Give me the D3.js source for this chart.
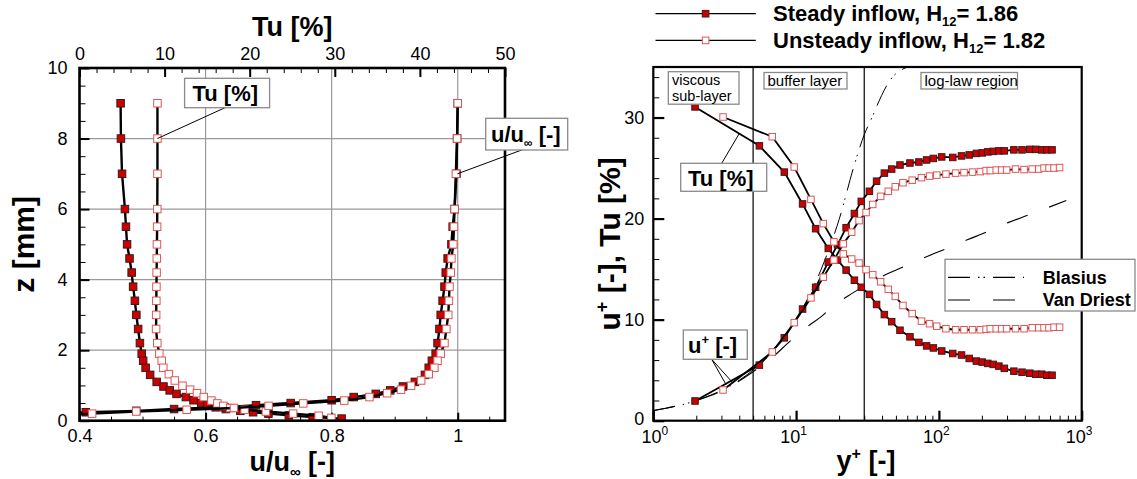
<!DOCTYPE html>
<html><head><meta charset="utf-8">
<script src="https://cdn.jsdelivr.net/npm/d3@7"></script>
<style>
body{margin:0;background:#fff;}
svg{display:block;font-family:"Liberation Sans",Arial,Helvetica,sans-serif;}
</style></head><body>
<svg id="c" width="1137" height="479"></svg>
<script>
// ================= LEFT PANEL DATA (z in mm) =================
const steadyZ  = [9, 8, 7, 6, 5.5, 5.0, 4.6, 4.2, 3.8, 3.4, 3.0, 2.6, 2.2, 1.9, 1.7, 1.5, 1.3, 1.1, 0.97, 0.86, 0.76, 0.67, 0.58, 0.5, 0.44, 0.38, 0.33, 0.28, 0.24, 0.2, 0.15, 0.1, 0.06];
const steadyTu = [4.83, 4.87, 5.0, 5.34, 5.46, 5.59, 5.88, 6.13, 6.3, 6.51, 6.68, 6.89, 7.1, 7.31, 7.48, 7.77, 8.3, 9.07, 9.87, 10.6, 11.4, 12.5, 13.4, 14.3, 15.0, 16.0, 17.2, 18.9, 20.4, 22.2, 24.6, 27.4, 30.8];
const steadyU  = [1.0, 0.999, 0.998, 0.995, 0.992, 0.990, 0.984, 0.981, 0.979, 0.976, 0.973, 0.971, 0.968, 0.965, 0.959, 0.954, 0.948, 0.932, 0.913, 0.893, 0.87, 0.835, 0.80, 0.735, 0.68, 0.63, 0.55, 0.49, 0.41, 0.35, 0.3, 0.24, 0.18];
const unsteadyZ  = [9, 8, 7, 6, 5.5, 5.0, 4.6, 4.2, 3.8, 3.4, 3.0, 2.6, 2.2, 1.9, 1.7, 1.5, 1.32, 1.14, 0.99, 0.88, 0.78, 0.67, 0.57, 0.49, 0.42, 0.36, 0.31, 0.26, 0.2, 0.14, 0.08];
const unsteadyTu = [9.16, 9.16, 9.16, 9.14, 9.12, 9.1, 9.08, 9.06, 9.04, 9.03, 9.01, 9.0, 9.14, 9.38, 9.66, 9.85, 10.5, 11.2, 12.1, 13.0, 13.8, 14.6, 15.5, 16.2, 16.9, 17.7, 19.4, 21.9, 25.1, 28.1, 29.6];
const unsteadyU  = [1.0, 0.999, 0.997, 0.995, 0.994, 0.993, 0.99, 0.989, 0.987, 0.986, 0.985, 0.982, 0.979, 0.973, 0.968, 0.963, 0.954, 0.942, 0.926, 0.91, 0.888, 0.86, 0.82, 0.755, 0.70, 0.645, 0.57, 0.49, 0.42, 0.34, 0.25];

// ================= RIGHT PANEL DATA (wall units) =================
const steadyYp  = [1.96, 5.53, 8.27, 11.1, 13.7, 16.8, 19.5, 22.4, 25.6, 28.6, 32.6, 36.6, 41.5, 46.7, 53.4, 62.7, 72.4, 82, 91.5, 104.6, 125, 144, 163, 183, 201, 220, 240, 263, 287, 335, 382, 433, 477, 525, 570, 620];
const steadyUp  = [1.95, 5.5, 8.2, 11.05, 13.2, 15.7, 17.4, 19.1, 20.5, 21.7, 22.7, 23.7, 24.5, 24.9, 25.3, 25.5, 25.6, 25.8, 25.95, 26.1, 26.05, 26.2, 26.3, 26.45, 26.5, 26.6, 26.65, 26.7, 26.7, 26.8, 26.8, 26.85, 26.85, 26.8, 26.8, 26.8];
const steadyTuR = [31.05, 27.2, 24.6, 21.45, 19.0, 17.05, 15.9, 14.9, 13.9, 13.2, 12.5, 11.5, 10.5, 9.8, 8.95, 8.3, 7.75, 7.4, 7.2, 6.9, 6.65, 6.5, 6.16, 5.9, 5.8, 5.67, 5.57, 5.4, 5.18, 4.9, 4.8, 4.7, 4.6, 4.6, 4.5, 4.5];
const unsteadyYp  = [3.08, 6.81, 9.7, 12.7, 15.5, 18.4, 21.4, 24.5, 27.6, 30.9, 34.4, 39.1, 44.2, 49.5, 56, 65, 75.5, 86, 96.6, 112, 131, 150, 172, 195, 214, 229, 252, 275, 298, 344, 395, 450, 500, 545, 590, 640, 700];
const unsteadyUp  = [3.04, 6.8, 9.7, 12.15, 14.2, 15.9, 17.5, 18.65, 19.8, 20.6, 21.4, 22.2, 22.7, 23.15, 23.55, 23.8, 24.05, 24.2, 24.3, 24.4, 24.5, 24.55, 24.6, 24.65, 24.75, 24.75, 24.8, 24.8, 24.8, 24.9, 24.85, 24.9, 24.9, 25.0, 25.0, 25.0, 25.05];
const unsteadyTuR = [30.05, 28.1, 25.1, 21.9, 19.5, 17.7, 16.5, 16.0, 15.6, 14.95, 14.45, 13.75, 13.0, 12.3, 11.4, 10.6, 9.85, 9.6, 9.35, 9.1, 9.0, 9.0, 9.0, 9.0, 9.05, 9.1, 9.1, 9.1, 9.1, 9.1, 9.1, 9.2, 9.2, 9.2, 9.2, 9.25, 9.25];
const blasiusYp = [1, 2, 4, 7, 10, 15, 20, 25.8, 30, 34, 38, 41.4, 45, 48.8, 56, 63, 80];
const blasiusUp = [1, 2, 4, 7, 10, 15, 19.9, 25.5, 28.3, 30.0, 31.6, 32.7, 33.6, 34.2, 34.8, 35.1, 35.5];
const vanDriestYp = [1, 2, 3, 5, 7, 8.8, 12.5, 15, 18, 25, 37.6, 52, 75, 107, 158, 219, 305, 413, 571, 780];
const vanDriestUp = [1.0, 2.0, 2.95, 4.85, 6.4, 7.7, 9.5, 10.3, 11.3, 12.65, 14.1, 15.0, 16.0, 16.9, 17.9, 18.7, 19.6, 20.3, 21.05, 21.8];
const regionBounds = [5, 30];
const regionLabels = ["viscous|sub-layer", "buffer layer", "log-law region"];

// ================= TICKS =================
const zTicks = [0, 2, 4, 6, 8, 10];
const zMinor = d3.range(0, 10.01, 0.5);
const uTicks = [0.4, 0.6, 0.8, 1];
const uMinor = d3.range(0.4, 1.076, 0.05);
const tuTicks = [0, 10, 20, 30, 40, 50];
const tuMinor = d3.range(0, 50.01, 2);
const rYTicks = [0, 10, 20, 30];
const rYMinor = d3.range(0, 35.01, 2);
const rXTicks = [1, 10, 100, 1000];
const rXMinor = [2,3,4,5,6,7,8,9,20,30,40,50,60,70,80,90,200,300,400,500,600,700,800,900];

const RED = "#cc0000", REDL = "#e05555";
const svg = d3.select("#c");
const defs = svg.append("defs");

// ================= LEFT PANEL =================
const L = {x0: 79.5, x1: 505, y0: 68, y1: 420.7};
const xU = d3.scaleLinear([0.4, 1.075], [L.x0, L.x1]);
const xTu = d3.scaleLinear([0, 50], [L.x0, L.x1]);
const yZ = d3.scaleLinear([0, 10], [L.y1, L.y0]);

defs.append("clipPath").attr("id", "clipL").append("rect")
  .attr("x", L.x0).attr("y", L.y0).attr("width", L.x1 - L.x0).attr("height", L.y1 - L.y0);

const gL = svg.append("g");
// grid
gL.append("g").selectAll("line").data([0.6, 0.8, 1]).join("line")
  .attr("x1", d => xU(d)).attr("x2", d => xU(d)).attr("y1", L.y0).attr("y2", L.y1)
  .attr("stroke", "#9a9a9a").attr("stroke-width", 1.2);
gL.append("g").selectAll("line").data([2, 4, 6, 8]).join("line")
  .attr("y1", d => yZ(d)).attr("y2", d => yZ(d)).attr("x1", L.x0).attr("x2", L.x1)
  .attr("stroke", "#9a9a9a").attr("stroke-width", 1.2);

function styleAxis(g, w) {
  g.select(".domain").remove();
  g.selectAll(".tick line").attr("stroke", "#000").attr("stroke-width", w);
  g.selectAll(".tick text").attr("fill", "#000").attr("font-size", 18).attr("font-family", null);
}
// left z axis
gL.append("g").attr("transform", `translate(${L.x0},0)`)
  .call(d3.axisRight(yZ).tickValues(zMinor).tickSize(6).tickFormat("")).call(styleAxis, 1);
gL.append("g").attr("transform", `translate(${L.x0},0)`)
  .call(d3.axisLeft(yZ).tickValues(zTicks).tickSizeInner(-10).tickSizeOuter(0).tickPadding(12).tickFormat(d3.format("d"))).call(styleAxis, 2);
// bottom u axis
gL.append("g").attr("transform", `translate(0,${L.y1})`)
  .call(d3.axisTop(xU).tickValues(uMinor).tickSize(4).tickFormat("")).call(styleAxis, 1);
gL.append("g").attr("transform", `translate(0,${L.y1})`)
  .call(d3.axisBottom(xU).tickValues(uTicks).tickSizeInner(-8).tickSizeOuter(0).tickPadding(9)
    .tickFormat(d => d === 1 ? "1" : d3.format(".1f")(d))).call(styleAxis, 2);
// top Tu axis
gL.append("g").attr("transform", `translate(0,${L.y0})`)
  .call(d3.axisBottom(xTu).tickValues(tuMinor).tickSize(5).tickFormat("")).call(styleAxis, 1);
gL.append("g").attr("transform", `translate(0,${L.y0})`)
  .call(d3.axisTop(xTu).tickValues(tuTicks).tickSizeInner(-9).tickSizeOuter(0).tickPadding(8).tickFormat(d3.format("d"))).call(styleAxis, 2);

// data
const dL = gL.append("g").attr("clip-path", "url(#clipL)");
function seriesL(zs, vals, xs, filled) {
  const pts = zs.map((z, i) => [xs(vals[i]), yZ(z)]);
  dL.append("path").attr("d", d3.line()(pts)).attr("fill", "none").attr("stroke", "#000").attr("stroke-width", 2.4);
  const s = 7.5;
  dL.append("g").selectAll("rect").data(pts).join("rect")
    .attr("x", d => d[0] - s / 2).attr("y", d => d[1] - s / 2).attr("width", s).attr("height", s)
    .attr("fill", filled ? RED : "#fff").attr("stroke", filled ? "#3a1a1a" : REDL).attr("stroke-width", 1);
}
seriesL(steadyZ, steadyTu, xTu, true);
seriesL(steadyZ, steadyU, xU, true);
seriesL(unsteadyZ, unsteadyTu, xTu, false);
seriesL(unsteadyZ, unsteadyU, xU, false);

// frame
gL.append("rect").attr("x", L.x0).attr("y", L.y0).attr("width", L.x1 - L.x0).attr("height", L.y1 - L.y0)
  .attr("fill", "none").attr("stroke", "#000").attr("stroke-width", 2.6);

// titles
gL.append("text").attr("x", (L.x0 + L.x1) / 2).attr("y", 36).attr("text-anchor", "middle")
  .attr("font-size", 27).attr("font-weight", "bold").text("Tu [%]");
const tb = gL.append("text").attr("x", (L.x0 + L.x1) / 2).attr("y", 471).attr("text-anchor", "middle")
  .attr("font-size", 27).attr("font-weight", "bold");
tb.append("tspan").text("u/u");
tb.append("tspan").attr("font-size", 15).attr("dy", 6).text("∞");
tb.append("tspan").attr("dy", -6).text(" [-]");
gL.append("text").attr("transform", `translate(34,${(L.y0 + L.y1) / 2}) rotate(-90)`).attr("text-anchor", "middle")
  .attr("font-size", 30).attr("font-weight", "bold").text("z [mm]");

// annotations
function annBox(g, x, y, w, h) {
  g.append("rect").attr("x", x).attr("y", y).attr("width", w).attr("height", h)
    .attr("fill", "#fff").attr("stroke", "#8a8a8a").attr("stroke-width", 1.3);
}
function leader(g, x1, y1, x2, y2) {
  g.append("line").attr("x1", x1).attr("y1", y1).attr("x2", x2).attr("y2", y2).attr("stroke", "#000").attr("stroke-width", 1);
}
const iTu8 = unsteadyZ.indexOf(8);
leader(gL, 225, 107.7, xTu(unsteadyTu[iTu8]), yZ(8));
annBox(gL, 184.6, 78.3, 85, 29.4);
gL.append("text").attr("x", 192.5).attr("y", 100.5).attr("font-size", 22).attr("font-weight", "bold").text("Tu [%]");
const iU7 = steadyZ.indexOf(7);
leader(gL, 523, 149.5, xU(steadyU[iU7]) + 1, yZ(7));
annBox(gL, 485.7, 118.3, 82, 31.7);
const ta = gL.append("text").attr("x", 491).attr("y", 141.5).attr("font-size", 22).attr("font-weight", "bold");
ta.append("tspan").text("u/u");
ta.append("tspan").attr("font-size", 12).attr("dy", 5).text("∞");
ta.append("tspan").attr("dy", -5).text(" [-]");

// ================= RIGHT PANEL =================
const R = {x0: 653.3, x1: 1081.7, y0: 67, y1: 420.7};
const xY = d3.scaleLog([1, 1000], [R.x0, R.x1]);
const yR = d3.scaleLinear([0, 35], [R.y1, R.y0]);
defs.append("clipPath").attr("id", "clipR").append("rect")
  .attr("x", R.x0).attr("y", R.y0).attr("width", R.x1 - R.x0).attr("height", R.y1 - R.y0);
const gR = svg.append("g");

// axes
gR.append("g").attr("transform", `translate(${R.x0},0)`)
  .call(d3.axisRight(yR).tickValues(rYMinor).tickSize(6).tickFormat("")).call(styleAxis, 1);
const yAxR = gR.append("g").attr("transform", `translate(${R.x0},0)`)
  .call(d3.axisLeft(yR).tickValues(rYTicks).tickSizeInner(-11).tickSizeOuter(0).tickPadding(9).tickFormat(d3.format("d"))).call(styleAxis, 2.2);
yAxR.selectAll(".tick text").attr("dy", d => d === 0 ? "0.2em" : "0.32em");
gR.append("g").attr("transform", `translate(0,${R.y1})`)
  .call(d3.axisTop(xY).tickValues(rXMinor).tickSize(5).tickFormat("")).call(styleAxis, 1);
const xAx = gR.append("g").attr("transform", `translate(0,${R.y1})`)
  .call(d3.axisTop(xY).tickValues(rXTicks).tickSize(10).tickFormat("")).call(styleAxis, 2.2);
xAx.selectAll(".tick").each(function(d) {
  const t = d3.select(this).append("text").attr("x", d === 1 ? 1 : -3).attr("y", 22.5).attr("text-anchor", "middle")
    .attr("font-size", 18).attr("fill", "#000");
  t.append("tspan").text("10");
  t.append("tspan").attr("font-size", 12).attr("dy", -8).text(Math.round(Math.log10(d)));
});

// region separators
gR.append("g").selectAll("line").data(regionBounds).join("line")
  .attr("x1", d => xY(d)).attr("x2", d => xY(d)).attr("y1", R.y0).attr("y2", R.y1)
  .attr("stroke", "#000").attr("stroke-width", 1.2);

const dR = gR.append("g").attr("clip-path", "url(#clipR)");
const lineR = d3.line().curve(d3.curveMonotoneX);
dR.append("path").attr("d", lineR(blasiusYp.map((v, i) => [xY(v), yR(blasiusUp[i])])))
  .attr("fill", "none").attr("stroke", "#000").attr("stroke-width", 1).attr("stroke-dasharray", "22,8,1.5,4,1.5,8");
dR.append("path").attr("d", lineR(vanDriestYp.map((v, i) => [xY(v), yR(vanDriestUp[i])])))
  .attr("fill", "none").attr("stroke", "#000").attr("stroke-width", 1.1).attr("stroke-dasharray", "22,23");

function seriesR(xs, ys, filled) {
  const pts = xs.map((v, i) => [xY(v), yR(ys[i])]);
  dR.append("path").attr("d", d3.line()(pts)).attr("fill", "none").attr("stroke", "#000").attr("stroke-width", 1.8);
  const s = 6.5;
  dR.append("g").selectAll("rect").data(pts).join("rect")
    .attr("x", d => d[0] - s / 2).attr("y", d => d[1] - s / 2).attr("width", s).attr("height", s)
    .attr("fill", filled ? RED : "#fff").attr("stroke", filled ? "#3a1a1a" : REDL).attr("stroke-width", 1);
}
seriesR(steadyYp, steadyUp, true);
seriesR(steadyYp, steadyTuR, true);
seriesR(unsteadyYp, unsteadyUp, false);
seriesR(unsteadyYp, unsteadyTuR, false);

// frame
gR.append("rect").attr("x", R.x0).attr("y", R.y0).attr("width", R.x1 - R.x0).attr("height", R.y1 - R.y0)
  .attr("fill", "none").attr("stroke", "#000").attr("stroke-width", 2.2);

// region labels
annBox(gR, 668.3, 71.7, 70.7, 32.5);
gR.append("text").attr("x", 672).attr("y", 85).attr("font-size", 14.5).text(regionLabels[0].split("|")[0]);
gR.append("text").attr("x", 672).attr("y", 100.5).attr("font-size", 14.5).text(regionLabels[0].split("|")[1]);
annBox(gR, 764, 72.5, 83, 16.5);
gR.append("text").attr("x", 767.5).attr("y", 85.5).attr("font-size", 15).text(regionLabels[1]);
annBox(gR, 921, 72.5, 96.5, 16.5);
gR.append("text").attr("x", 924.5).attr("y", 85.5).attr("font-size", 15).text(regionLabels[2]);

// Tu and u+ annotations
leader(gR, 721.7, 163.3, 739, 134);
annBox(gR, 680.7, 163.3, 86, 28);
gR.append("text").attr("x", 688).attr("y", 185.5).attr("font-size", 22).attr("font-weight", "bold").text("Tu [%]");
leader(gR, 711.7, 359.3, 726, 384.5);
leader(gR, 711.7, 359.3, 733, 383);
annBox(gR, 683.3, 330, 64, 29.3);
const tup = gR.append("text").attr("x", 688).attr("y", 352.5).attr("font-size", 22).attr("font-weight", "bold");
tup.append("tspan").text("u");
tup.append("tspan").attr("font-size", 13).attr("dy", -9).text("+");
tup.append("tspan").attr("dy", 9).text(" [-]");

// Blasius / Van Driest legend
annBox(gR, 945, 259.3, 190, 51.7);
gR.append("line").attr("x1", 948).attr("x2", 1024).attr("y1", 277.3).attr("y2", 277.3)
  .attr("stroke", "#000").attr("stroke-width", 1.3).attr("stroke-dasharray", "22,8,1.5,4,1.5,8");
gR.append("line").attr("x1", 948).attr("x2", 1016).attr("y1", 300).attr("y2", 300)
  .attr("stroke", "#555").attr("stroke-width", 1.3).attr("stroke-dasharray", "22,23");
gR.append("text").attr("x", 1042.7).attr("y", 284).attr("font-size", 18).attr("font-weight", "bold").text("Blasius");
gR.append("text").attr("x", 1042.7).attr("y", 306).attr("font-size", 18).attr("font-weight", "bold").text("Van Driest");

// axis titles
const ty = gR.append("text").attr("x", 866).attr("y", 470).attr("text-anchor", "middle")
  .attr("font-size", 27).attr("font-weight", "bold");
ty.append("tspan").text("y");
ty.append("tspan").attr("font-size", 16).attr("dy", -11).text("+");
ty.append("tspan").attr("dy", 11).text(" [-]");
const tyl = gR.append("text").attr("transform", `translate(620,${(R.y0 + R.y1) / 2}) rotate(-90)`).attr("text-anchor", "middle")
  .attr("font-size", 30).attr("font-weight", "bold");
tyl.append("tspan").text("u");
tyl.append("tspan").attr("font-size", 18).attr("dy", -12).text("+");
tyl.append("tspan").attr("dy", 12).text(" [-], Tu [%]");

// top legend
const legendItems = [{label: "Steady inflow, H", sub: "12", tail: "= 1.86", filled: true, y: 13.7},
                     {label: "Unsteady inflow, H", sub: "12", tail: "= 1.82", filled: false, y: 40.4}];
legendItems.forEach(it => {
  gR.append("line").attr("x1", 655.5).attr("x2", 755.8).attr("y1", it.y).attr("y2", it.y).attr("stroke", "#000").attr("stroke-width", 1.2);
  gR.append("rect").attr("x", 705.6 - 3.3).attr("y", it.y - 3.3).attr("width", 6.6).attr("height", 6.6)
    .attr("fill", it.filled ? RED : "#fff").attr("stroke", it.filled ? "#3a1a1a" : REDL);
  const t = gR.append("text").attr("x", 773).attr("y", it.y + 7.3).attr("font-size", 22).attr("font-weight", "bold");
  t.append("tspan").text(it.label);
  t.append("tspan").attr("font-size", 13).attr("dy", 5).text(it.sub);
  t.append("tspan").attr("dy", -5).text(it.tail);
});
</script>
</body></html>
